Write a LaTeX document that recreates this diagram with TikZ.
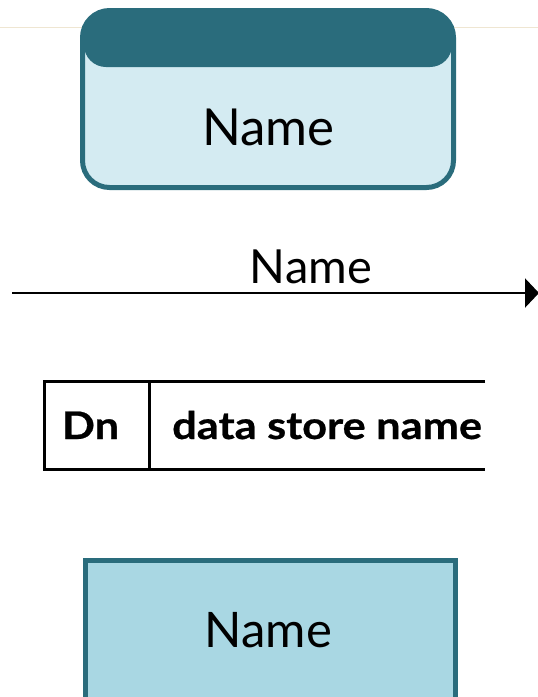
\documentclass[tikz,border=0pt]{standalone}
\usepackage{fontspec}
\setmainfont{Lato}
\usetikzlibrary{arrows.meta}
\definecolor{ddteal}{HTML}{2A6C7C}
\definecolor{lightfill}{HTML}{D4EBF2}
\definecolor{midfill}{HTML}{A9D7E3}
\definecolor{beigeline}{HTML}{EFE6D2}
\tikzset{
  bigname/.style={font=\fontsize{51}{51}\selectfont, anchor=base, inner sep=0pt},
  storetext/.style={font=\bfseries\fontsize{38}{38}\selectfont\addfontfeature{FakeBold=0.6}, anchor=base, inner sep=0pt},
  storeline/.style={line width=3pt, black},
}
\begin{document}
\begin{tikzpicture}[x=1pt,y=-1pt]
\useasboundingbox (0,0) rectangle (538,697);
\clip (0,0) rectangle (538,697);
% faint guide line
\draw[beigeline, line width=1pt] (0,27) -- (538,27);
% top entity (rounded with header)
\node[fill=lightfill, rounded corners=27pt, minimum width=371pt, minimum height=177pt, inner sep=0pt, anchor=north west] (ent) at (82.5,10.5) {};
\begin{scope}
  \clip[rounded corners=27pt] (82.5,10.5) rectangle (453.5,187.5);
  \fill[ddteal, rounded corners=22pt] (84,-30) rectangle (452,67);
\end{scope}
\draw[ddteal, line width=5pt, rounded corners=27pt] (82.5,10.5) rectangle (453.5,187.5);
\node[bigname] (entname) at (268.5,145) {Name};
% flow
\coordinate (fstart) at (12,293);
\coordinate (fend) at (539,293);
\draw[line width=2.5pt, -{Triangle[length=14pt,width=29pt]}] (fstart) -- (fend);
\node[bigname, font=\fontsize{47}{47}\selectfont] (flowname) at (311,283) {Name};
% data store
\coordinate (stl) at (44,381.5);
\coordinate (str) at (485,381.5);
\coordinate (sbl) at (44,469);
\coordinate (sbr) at (485,469);
\coordinate (sdt) at (149,381.5);
\coordinate (sdb) at (149,469);
\draw[storeline] (str) -- (stl) -- (sbl) -- (sbr);
\draw[storeline] (sdt) -- (sdb);
\node[storetext] (dn) at (90.5,439) {\scalebox{1.14}[1]{Dn}};
\node[storetext, anchor=base west] (dsname) at (172,439) {\scalebox{1.14}[1]{data store name}};
% bottom entity
\node[draw=ddteal, fill=midfill, line width=5pt, minimum width=370pt, minimum height=170pt, inner sep=0pt, anchor=north west] (ext) at (83,558) {};
\node[bigname, font=\fontsize{49}{49}\selectfont] (extname) at (268.5,647) {Name};
\end{tikzpicture}
\end{document}
